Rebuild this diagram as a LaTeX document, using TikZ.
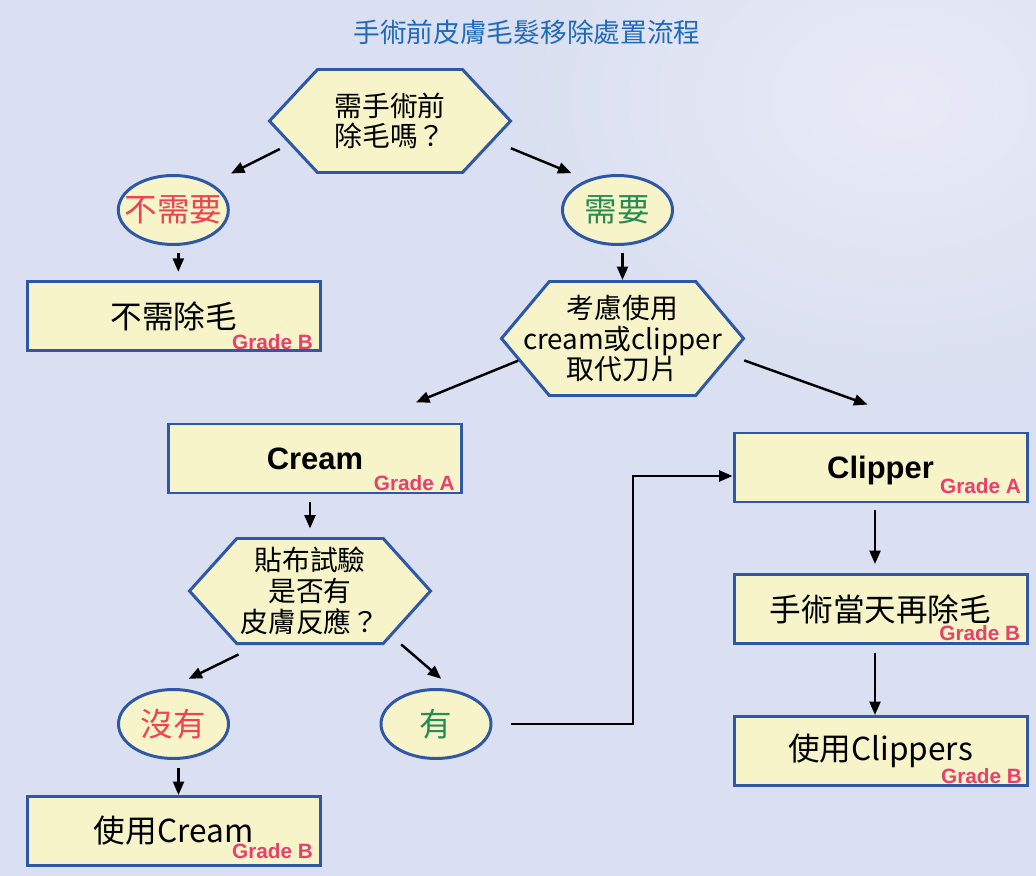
\documentclass[tikz,border=0pt]{standalone}
\usepackage{fontspec}
\setmainfont{Noto Sans CJK TC}
\newfontfamily\arialfont{Liberation Sans}
\usepackage{tikz}
\usetikzlibrary{shapes.geometric, shapes.symbols}
\usetikzlibrary{arrows.meta}
\newcommand{\edgeWidth}{1.7pt}
\definecolor{bgBlue}{RGB}{218,223,241}
\definecolor{bgLight}{RGB}{232,235,246}
\definecolor{boxFill}{RGB}{246,244,200}
\definecolor{boxEdge}{RGB}{46,88,166}
\definecolor{gradeRed}{RGB}{232,64,108}
\definecolor{noRed}{RGB}{238,68,82}
\definecolor{yesGreen}{RGB}{40,140,82}
\definecolor{titleBlue}{RGB}{31,107,185}

\tikzset{
  box/.style={draw=boxEdge, fill=boxFill, line width=\edgeWidth, minimum width=5.86cm, minimum height=1.38cm, inner sep=0pt, font=\fontsize{18}{20}\selectfont},
  boldbox/.style={box, font=\arialfont\bfseries\fontsize{17.6}{19}\selectfont, text depth=0pt},
  hexa/.style={signal, signal to=east and west, signal pointer angle=94, draw=boxEdge, fill=boxFill, line width=\edgeWidth, inner sep=0pt, minimum width=4.82cm, minimum height=2.06cm},
  hextxt/.style={align=center, font=\fontsize{15.8}{17.5}\selectfont},
  oval/.style={ellipse, draw=boxEdge, fill=boxFill, line width=\edgeWidth, inner sep=0pt, minimum width=2.2cm, minimum height=1.38cm},
  ovaltxt/.style={font=\fontsize{18.5}{20}\selectfont},
  grade/.style={font=\arialfont\bfseries\fontsize{11.8}{12}\selectfont, text=gradeRed, inner sep=0pt, anchor=base east},
  arr/.style={line width=1.4pt, -{Triangle[length=0.27cm, width=0.22cm]}}
}

\begin{document}
\begin{tikzpicture}
\useasboundingbox (0,0) rectangle (20.72,-17.52);
\fill[bgBlue] (0,0) rectangle (20.72,-17.52);
\shade[inner color=bgLight, outer color=bgBlue] (10,4) rectangle (26,-8);
\node[font=\fontsize{15.2}{17}\selectfont, text=titleBlue] (title) at (10.54,-0.64) {手術前皮膚毛髮移除處置流程};

\node[hexa, label={[hextxt]center:{需手術前\\除毛嗎？}}] (ask) at (7.80,-2.42) {};
\node[oval, label={[ovaltxt, text=noRed]center:不需要}] (nope) at (3.466,-4.20) {};
\node[oval, label={[ovaltxt, text=yesGreen]center:需要}] (need) at (12.35,-4.20) {};
\node[box] (noshave) at (3.474,-6.326) {不需除毛};
\node[hexa, signal pointer angle=100, minimum width=4.84cm, minimum height=2.28cm, label={[hextxt]center:{考慮使用\\cream或clipper\\取代刀片}}] (consider) at (12.45,-6.77) {};
\node[boldbox] (cream) at (6.30,-9.17) {Cream};
\node[boldbox] (clipper) at (17.61,-9.35) {Clipper};
\node[hexa, signal pointer angle=96, minimum height=2.10cm, label={[hextxt]center:{貼布試驗\\是否有\\皮膚反應？}}] (patch) at (6.20,-11.82) {};
\node[oval, label={[ovaltxt, text=noRed]center:沒有}] (noreact) at (3.47,-14.48) {};
\node[oval, label={[ovaltxt, text=yesGreen]center:有}] (react) at (8.72,-14.48) {};
\node[box] (usecream) at (3.474,-16.62) {使用Cream};
\node[box] (sameday) at (17.61,-12.18) {手術當天再除毛};
\node[box] (useclip) at (17.61,-15.02) {使用Clippers};

\node[grade] (noshaveg) at ([shift={(-0.17,0.054)}]noshave.south east) {Grade B};
\node[grade] (creamg) at ([shift={(-0.16,0.08)}]cream.south east) {Grade A};
\node[grade] (clipperg) at ([shift={(-0.146,0.206)}]clipper.south east) {Grade A};
\node[grade] (samedayg) at ([shift={(-0.16,0.086)}]sameday.south east) {Grade B};
\node[grade] (useclipg) at ([shift={(-0.126,0.08)}]useclip.south east) {Grade B};
\node[grade] (usecreamg) at ([shift={(-0.17,0.168)}]usecream.south east) {Grade B};

\coordinate (elbow) at (12.66,-9.52);

\draw[arr, shorten <=0.21cm, shorten >=0.44cm] (ask.193) -- (nope.35);
\draw[arr, shorten <=0.37cm, shorten >=0.34cm] (ask.-11) -- (need.135);
\draw[arr, shorten <=0.14cm, shorten >=0.17cm] ([xshift=0.1cm]nope.south) -- ([xshift=0.1cm]nope.south |- noshave.north);
\draw[arr, shorten <=0.14cm] (consider.north |- need.south) -- (consider.north);
\draw[arr, shorten >=1.07cm] (consider.192) -- (cream.35);
\draw[arr, shorten <=0.28cm, shorten >=1.6cm] (consider.-9) -- (clipper.30);
\draw[arr, shorten <=0.15cm, shorten >=0.17cm] (patch.north |- cream.south) -- (patch.north);
\draw[arr, shorten <=0.43cm, shorten >=0.42cm] (patch.226) -- (noreact.96);
\draw[arr, shorten <=0.25cm, shorten >=0.34cm] (patch.-29) -- (react.62);
\draw[arr, shorten <=0.16cm] ([xshift=0.1cm]noreact.south) -- ([xshift=0.1cm]noreact.south |- usecream.north);
\draw[arr, shorten <=0.38cm] (react.east) -| (elbow) -- (elbow -| clipper.west);
\draw[arr, shorten <=0.14cm, shorten >=0.18cm] ([xshift=-0.11cm]clipper.south) -- ([xshift=-0.11cm]clipper.south |- sameday.north);
\draw[arr, shorten <=0.155cm] ([xshift=-0.11cm]sameday.south) -- ([xshift=-0.11cm]sameday.south |- useclip.north);
\end{tikzpicture}
\end{document}
